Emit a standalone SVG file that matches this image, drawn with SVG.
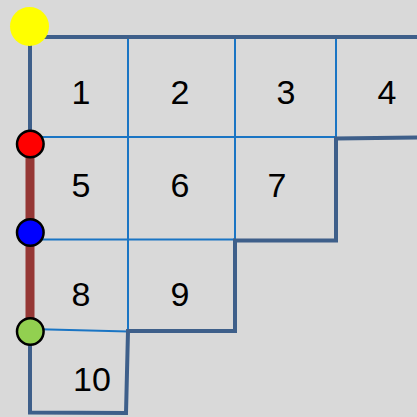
<svg xmlns="http://www.w3.org/2000/svg" width="417" height="417" viewBox="0 0 417 417">
<style>
.thin{stroke:#1A75C4;stroke-width:2;fill:none}
.thick{stroke:#3E5F8A;stroke-width:4;fill:none;stroke-linejoin:miter}
.lbl{font-family:"Liberation Sans","DejaVu Sans",sans-serif;font-size:34px;fill:#000;text-anchor:middle}
.dot{stroke:#000;stroke-width:2.5}
</style>
<rect width="417" height="417" fill="#D9D9D9"/>
<g id="connectors">
<path class="thin" d="M128 37V331M235 37V240M336 37V138M30 137H336M30 239.5H235M30 329L128 331.5"/>
<path class="thick" d="M30 144V37H417"/>
<path class="thick" d="M417 137.5L336 138.5V240.5H235V331H128L126 413L30 412.5V331"/>
<path d="M30 144V331" stroke="#953735" stroke-width="9"/>
</g>
<g id="cell1"><text class="lbl" x="81" y="104">1</text></g>
<g id="cell2"><text class="lbl" x="180" y="104">2</text></g>
<g id="cell3"><text class="lbl" x="286" y="104">3</text></g>
<g id="cell4"><text class="lbl" x="387" y="104">4</text></g>
<g id="cell5"><text class="lbl" x="81" y="197">5</text></g>
<g id="cell6"><text class="lbl" x="180" y="197">6</text></g>
<g id="cell7"><text class="lbl" x="277" y="197">7</text></g>
<g id="cell8"><text class="lbl" x="81" y="306">8</text></g>
<g id="cell9"><text class="lbl" x="180" y="306">9</text></g>
<g id="cell10"><text class="lbl" x="92" y="391">10</text></g>
<g id="yellow"><circle cx="29.5" cy="26.5" r="19.5" fill="#FFFF00"/></g>
<g id="red"><circle class="dot" cx="30.3" cy="144" r="13.3" fill="#FF0000"/></g>
<g id="blue"><circle class="dot" cx="30.3" cy="232.5" r="13.3" fill="#0000FF"/></g>
<g id="green"><circle class="dot" cx="30.3" cy="331.5" r="13.3" fill="#92D050"/></g>
</svg>
